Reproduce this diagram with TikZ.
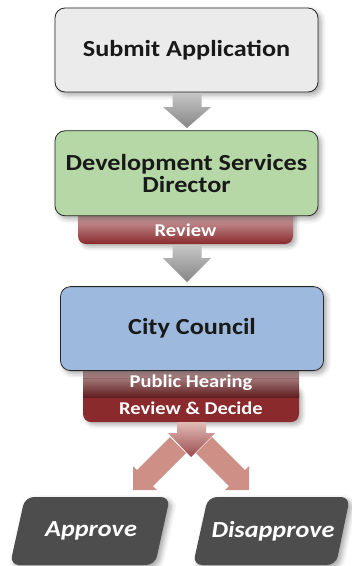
\documentclass[tikz,border=0pt]{standalone}
\usepackage{fontspec}
\setmainfont{Carlito}[FakeStretch=1.14]
\usepackage{xcolor}
\usetikzlibrary{positioning,calc,shadows.blur}
\definecolor{edge}{HTML}{262626}
\definecolor{subgray}{HTML}{EBEBEB}
\definecolor{dirgreen}{HTML}{B5D8A6}
\definecolor{cityblue}{HTML}{9DB9DD}
\definecolor{darkred}{HTML}{8A2A2D}
\definecolor{tabtop}{HTML}{F2E6E6}
\definecolor{pinkarrow}{HTML}{CD8F86}
\definecolor{outgray}{HTML}{4D4D4D}

\begin{document}
\begin{tikzpicture}[x=1pt,y=-1pt,node distance=38pt,
stepbox/.style={rounded corners=10pt,draw=edge,line width=0.8pt,minimum width=263pt,minimum height=84pt,align=center,
  font=\fontsize{23}{22}\selectfont\bfseries,text=black!90,blur shadow={shadow xshift=3pt,shadow yshift=-3pt,shadow blur radius=5pt,shadow opacity=35}},
tablabel/.style={text=white,font=\fontsize{18}{18}\selectfont\bfseries,inner sep=0pt},
grayarrow/.style={top color=gray!45,bottom color=gray!95,draw=none},
outcome/.style={fill=outgray,rounded corners=9pt,blur shadow={shadow xshift=3pt,shadow yshift=-3pt,shadow blur radius=5pt,shadow opacity=35}},
outlabel/.style={text=white,font=\fontsize{23}{24}\selectfont\bfseries\itshape}]
\useasboundingbox (0,0) rectangle (352,566);
% tabs behind the boxes
\shade[top color=tabtop,bottom color=darkred,rounded corners=8pt,blur shadow={shadow xshift=3pt,shadow yshift=-3pt,shadow blur radius=4pt,shadow opacity=30}]
  (78,200) rectangle (293,244);
\fill[darkred,rounded corners=8pt,blur shadow={shadow xshift=3pt,shadow yshift=-3pt,shadow blur radius=4pt,shadow opacity=30}]
  (83,385) rectangle (299,422);
\shade[top color=tabtop,bottom color=darkred!70!black] (83,355) rectangle (299,397);
% boxes
\node[stepbox,fill=subgray] (submit) at (186.5,50) {Submit Application};
\node[stepbox,fill=dirgreen,minimum height=85pt,below=38pt of submit] (director) {Development Services\\Director};
\node[stepbox,fill=cityblue,below=70pt of director,xshift=5.5pt] (council) {City Council};
\node[tablabel] (review) at (185.5,230) {Review};
\node[tablabel] (hearing) at (191,383) {Public Hearing};
\node[tablabel] (decide) at (191,408) {Review \& Decide};
% gray arrows
\shade[grayarrow] (172.5,93) -- (201.5,93) -- (201.5,107) -- (211,107) -- (187,128) -- (163,107) -- (172.5,107) -- cycle;
\shade[grayarrow] (172.5,245) -- (201.5,245) -- (201.5,258) -- (211,258) -- (187,282) -- (163,258) -- (172.5,258) -- cycle;
% split arrows
\fill[pinkarrow] (133,490) -- (157,490) -- (153,486) -- (186,453) -- (170,437) -- (137,470) -- (133,466) -- cycle;
\fill[pinkarrow] (249,490) -- (225,490) -- (229,486) -- (196,453) -- (212,437) -- (245,470) -- (249,466) -- cycle;
\shade[top color=pinkarrow!60,bottom color=darkred!85] (177,422) -- (206,422) -- (206,433) -- (215,433) -- (191,457) -- (168,433) -- (177,433) -- cycle;
% outcomes
\path[outcome] (25,497) -- (170,497) -- (155,565) -- (10,565) -- cycle;
\path[outcome] (208,497) -- (350,497) -- (336,565) -- (193,565) -- cycle;
\node[outlabel] (approve) at (91,531) {Approve};
\node[outlabel] (disapprove) at (273,531) {Disapprove};
\end{tikzpicture}
\end{document}
